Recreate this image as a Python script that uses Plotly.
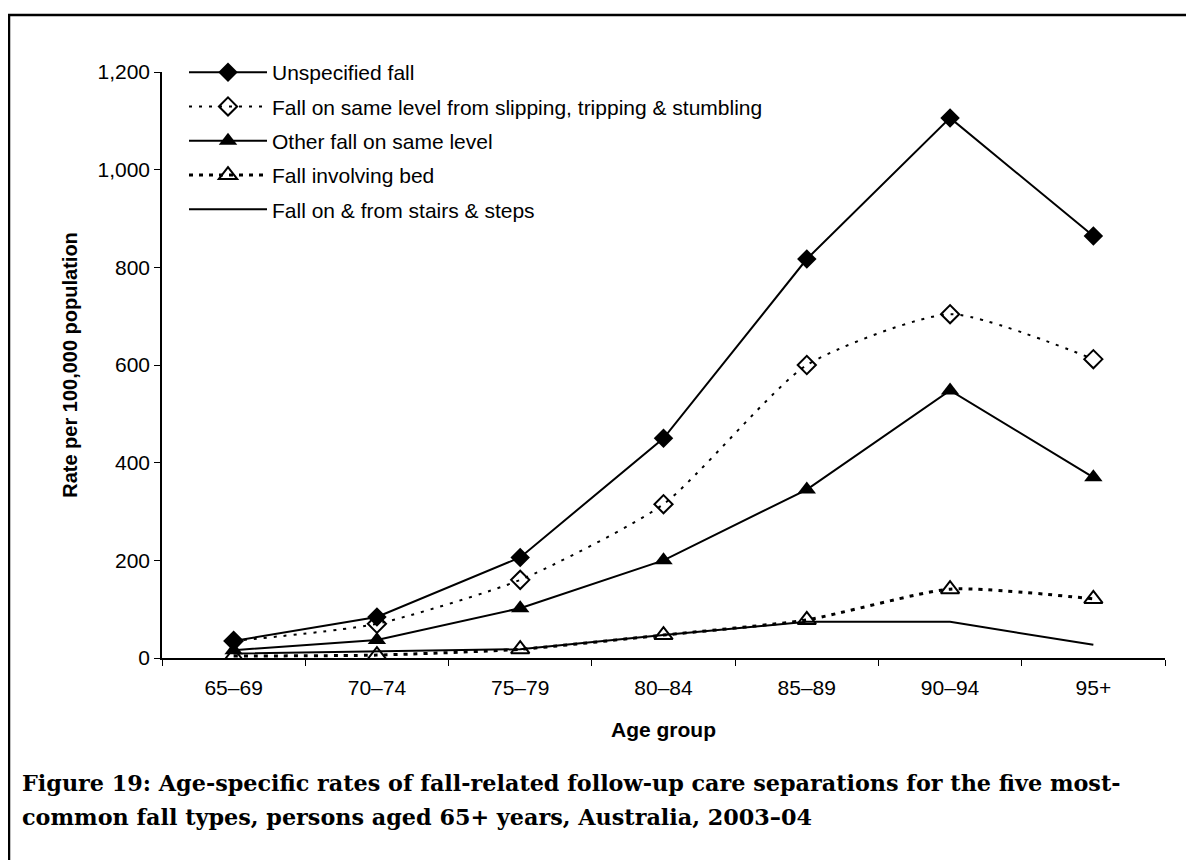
import plotly.graph_objects as go

age_groups = ["65–69", "70–74", "75–79", "80–84", "85–89", "90–94", "95+"]
unspecified = [35, 84, 206, 450, 817, 1106, 864]
slipping = [35, 70, 160, 315, 600, 704, 612]
other_same_level = [16, 37, 102, 200, 345, 548, 370]
bed = [4, 6, 18, 47, 78, 141, 121]
stairs = [9, 14, 18, 47, 74, 74, 27]

series_names = [
    "Unspecified fall",
    "Fall on same level from slipping, tripping & stumbling",
    "Other fall on same level",
    "Fall involving bed",
    "Fall on & from stairs & steps",
]

caption_lines = [
    "<b>Figure 19: Age-specific rates of fall-related follow-up care separations for the five most-</b>",
    "<b>common fall types, persons aged 65+ years, Australia, 2003–04</b>",
]

# page body has an 8px margin; figure is sized so it fills the visible window
W, H = 1186, 852
L, T, B, R = 154, 64, 202, 29
plot_w = W - L - R
plot_h = H - T - B

fig = go.Figure()

fig.add_trace(go.Scatter(
    x=age_groups, y=unspecified, name=series_names[0], mode="lines+markers",
    line=dict(color="black", width=2),
    marker=dict(symbol="diamond", size=15, color="black"),
    legendgroup="a"))
fig.add_trace(go.Scatter(
    x=age_groups, y=slipping, name=series_names[1], mode="lines+markers",
    line=dict(color="black", width=2, dash="3px,7px", shape="spline", smoothing=0.6),
    marker=dict(symbol="diamond-open", size=14, color="black", line=dict(width=2)),
    legendgroup="b"))
fig.add_trace(go.Scatter(
    x=age_groups, y=other_same_level, name=series_names[2], mode="lines+markers",
    line=dict(color="black", width=2),
    marker=dict(symbol="triangle-up", size=16, color="black"),
    legendgroup="c"))
fig.add_trace(go.Scatter(
    x=age_groups, y=bed, name=series_names[3], mode="lines+markers",
    line=dict(color="black", width=3, dash="4px,6px", shape="spline", smoothing=0.6),
    marker=dict(symbol="triangle-up-open", size=16, color="black", line=dict(width=2)),
    legendgroup="d"))
fig.add_trace(go.Scatter(
    x=age_groups, y=stairs, name=series_names[4], mode="lines",
    line=dict(color="black", width=2),
    legendgroup="e"))


def px_x(fx):
    return (fx - L) / plot_w


def px_y(fy):
    return (H - B - fy) / plot_h


fig.update_layout(
    width=W, height=H,
    paper_bgcolor="white", plot_bgcolor="white",
    margin=dict(l=L, r=R, t=T, b=B),
    font=dict(family="Liberation Sans, Arial, sans-serif", size=21, color="black"),
    showlegend=True,
    legend=dict(
        x=px_x(176), y=px_y(44), xanchor="left", yanchor="top",
        bgcolor="rgba(0,0,0,0)", borderwidth=0,
        font=dict(size=21, family="Liberation Sans, Arial, sans-serif"),
        tracegroupgap=4, itemwidth=78,
    ),
    xaxis=dict(
        type="category", range=[-0.5, 6.5],
        showline=True, linecolor="black", linewidth=1.5,
        ticks="outside", tickson="boundaries", ticklen=6, tickcolor="black",
        tickfont=dict(size=21), ticklabelstandoff=10,
        showgrid=False, zeroline=False,
        title=dict(text="<b>Age group</b>", font=dict(size=21), standoff=24),
    ),
    yaxis=dict(
        range=[0, 1200], tickvals=[0, 200, 400, 600, 800, 1000, 1200],
        ticktext=["0", "200", "400", "600", "800", "1,000", "1,200"],
        showline=True, linecolor="black", linewidth=1.5,
        ticks="outside", ticklen=6, tickcolor="black",
        tickfont=dict(size=21),
        showgrid=False, zeroline=False,
        title=dict(text="<b>Rate per 100,000 population</b>", font=dict(size=20), standoff=14),
    ),
    shapes=[dict(
        type="rect", xref="paper", yref="paper",
        x0=px_x(1), x1=1.2, y0=-0.6, y1=px_y(7),
        line=dict(color="black", width=2.5), fillcolor="rgba(0,0,0,0)", layer="below",
    )],
    annotations=[
        dict(xref="paper", yref="paper", x=px_x(12), y=px_y(775 + 34 * i),
             xanchor="left", yanchor="middle", align="left", showarrow=False,
             text=line,
             font=dict(family="DejaVu Serif, serif", size=22.3, color="black"))
        for i, line in enumerate(caption_lines)
    ],
)

fig.write_html("out.html")
